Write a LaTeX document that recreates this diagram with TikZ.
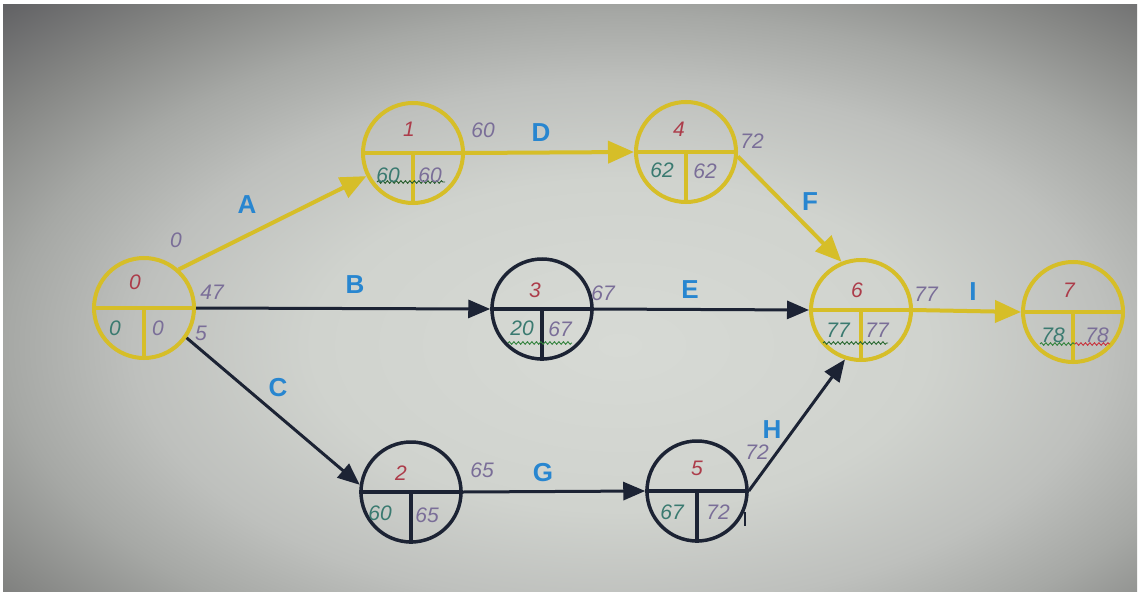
\documentclass[tikz,border=0pt]{standalone}
\usepackage{fontspec}
\setmainfont{Liberation Sans}
\usetikzlibrary{arrows.meta,decorations.pathmorphing}
\definecolor{ylw}{RGB}{214,190,40}
\definecolor{navy}{RGB}{28,35,52}
\definecolor{lblue}{RGB}{40,134,208}
\definecolor{topc}{RGB}{172,60,74}
\definecolor{leftc}{RGB}{58,122,112}
\definecolor{rightc}{RGB}{122,110,152}
\definecolor{sqg}{RGB}{50,130,60}
\definecolor{sqr}{RGB}{200,50,60}
\definecolor{bgA}{RGB}{215,218,213}
\definecolor{bgB}{RGB}{208,211,206}
\definecolor{bgC}{RGB}{190,192,189}
\definecolor{bgD}{RGB}{166,168,165}
\definecolor{bgE}{RGB}{134,135,133}
\definecolor{bgF}{RGB}{94,94,97}
\pgfdeclareradialshading{vign}{\pgfpoint{0bp}{0bp}}{color(0bp)=(bgA); color(12bp)=(bgB); color(19bp)=(bgC); color(24bp)=(bgD); color(29bp)=(bgE); color(35bp)=(bgF); color(50bp)=(bgF)}
\tikzset{
  ycirc/.style={circle, draw=ylw, line width=4pt, minimum size=100pt, inner sep=0pt},
  ncirc/.style={circle, draw=navy, line width=3.5pt, minimum size=100pt, inner sep=0pt},
  yline/.style={draw=ylw, line width=4pt},
  nline/.style={draw=navy, line width=3.5pt},
  yedge/.style={draw=ylw, line width=4pt, -{Triangle[length=26pt,width=22pt]}},
  nedge/.style={draw=navy, line width=3pt, -{Triangle[length=22pt,width=18pt]}},
  numtxt/.style={font=\itshape\fontsize{21}{21}\selectfont, inner sep=0pt},
  toptxt/.style={numtxt, text=topc},
  lefttxt/.style={numtxt, text=leftc},
  righttxt/.style={numtxt, text=rightc},
  outtxt/.style={numtxt, text=rightc},
  lettxt/.style={font=\bfseries\fontsize{26}{26}\selectfont, text=lblue, inner sep=0pt},
  squig/.style={decorate, decoration={snake, amplitude=1.3pt, segment length=4.5pt}, line width=0.9pt}
}
\begin{document}
\begin{tikzpicture}[x=1pt,y=-1pt]
\useasboundingbox (0,0) rectangle (1142,599);
\fill[white] (0,0) rectangle (1142,599);
\begin{scope}
  \clip (3,5) rectangle (1137,591);
  \shade[shading=vign] (-20,0) rectangle (1260,690);
\end{scope}

% event nodes
\node[ycirc] (n0) at (144,308) {};
\node[ycirc] (n1) at (413,153) {};
\node[ycirc] (n4) at (686,152) {};
\node[ncirc] (n3) at (542,309) {};
\node[ycirc] (n6) at (861,310) {};
\node[ycirc] (n7) at (1073,312) {};
\node[ncirc] (n2) at (411,492) {};
\node[ncirc] (n5) at (697,491) {};

% inner dividers
\foreach \n in {n0,n1,n4,n6,n7}{
  \draw[yline] (\n.west) -- (\n.east);
  \draw[yline] (\n.center) -- (\n.south);
}
\foreach \n in {n3,n2,n5}{
  \draw[nline] (\n.west) -- (\n.east);
  \draw[nline] (\n.center) -- (\n.south);
}

% squiggles
\draw[squig, sqg!70!black] (377,182) -- (445,182);
\draw[squig, sqg] (508,343) -- (572,343);
\draw[squig, sqg!80!black] (823,343) -- (888,343);
\draw[squig, sqg] (1040,344) -- (1075,344);
\draw[squig, sqr] (1075,344) -- (1110,344);

% inner texts
\node[toptxt] (t0) at (135,282) {0};
\node[lefttxt] (l0) at (115,328) {0};
\node[righttxt] (r0) at (158,328) {0};
\node[toptxt] (t1) at (409,129) {1};
\node[lefttxt] (l1) at (388,175) {60};
\node[righttxt] (r1) at (430,175) {60};
\node[toptxt] (t4) at (679,129) {4};
\node[lefttxt] (l4) at (662,170) {62};
\node[righttxt] (r4) at (705,171) {62};
\node[toptxt] (t3) at (535,290) {3};
\node[lefttxt] (l3) at (522,328) {20};
\node[righttxt] (r3) at (560,329) {67};
\node[toptxt] (t6) at (857,290) {6};
\node[lefttxt] (l6) at (838,330) {77};
\node[righttxt] (r6) at (877,330) {77};
\node[toptxt] (t7) at (1069,290) {7};
\node[lefttxt] (l7) at (1053,335) {78};
\node[righttxt] (r7) at (1097,335) {78};
\node[toptxt] (t2) at (401,473) {2};
\node[lefttxt] (l2) at (380,513) {60};
\node[righttxt] (r2) at (427,515) {65};
\node[toptxt] (t5) at (697,468) {5};
\node[lefttxt] (l5) at (672,512) {67};
\node[righttxt] (r5) at (718,512) {72};

% activity arrows
\draw[yedge] (n0.48) -- (n1);
\draw[nedge] (n0.east) -- (n3.west);
\draw[nedge] (n0.-35) -- (n2.172);
\draw[yedge] (n1.east) -- (n4.west);
\draw[nedge] (n3.east) -- (n6.west);
\draw[yedge] (n4.-5) -- (n6.112);
\draw[nedge] (n2.east) -- (n5.west);
\draw[nedge] (n5.east) -- (n6.-108);
\draw[yedge] (n6.east) -- (n7.west);

% stray cursor mark
\coordinate (m1) at (745,512);
\coordinate (m2) at (745,526);
\draw[navy, line width=2.5pt] (m1) -- (m2);

% outside numbers
\node[outtxt] (o0) at (176,240) {0};
\node[outtxt] (o47) at (212,292) {47};
\node[outtxt] (o5) at (201,333) {5};
\node[outtxt] (o60) at (483,130) {60};
\node[outtxt] (o72a) at (752,141) {72};
\node[outtxt] (o67) at (603,293) {67};
\node[outtxt] (o77) at (926,294) {77};
\node[outtxt] (o65) at (482,470) {65};
\node[outtxt] (o72b) at (757,452) {72};

% activity letters
\node[lettxt] (la) at (247,205) {A};
\node[lettxt] (lb) at (355,285) {B};
\node[lettxt] (lc) at (278,388) {C};
\node[lettxt] (ld) at (541,133) {D};
\node[lettxt] (le) at (690,290) {E};
\node[lettxt] (lf) at (810,202) {F};
\node[lettxt] (lg) at (543,473) {G};
\node[lettxt] (lh) at (772,430) {H};
\node[lettxt] (li) at (973,292) {I};
\end{tikzpicture}
\end{document}
